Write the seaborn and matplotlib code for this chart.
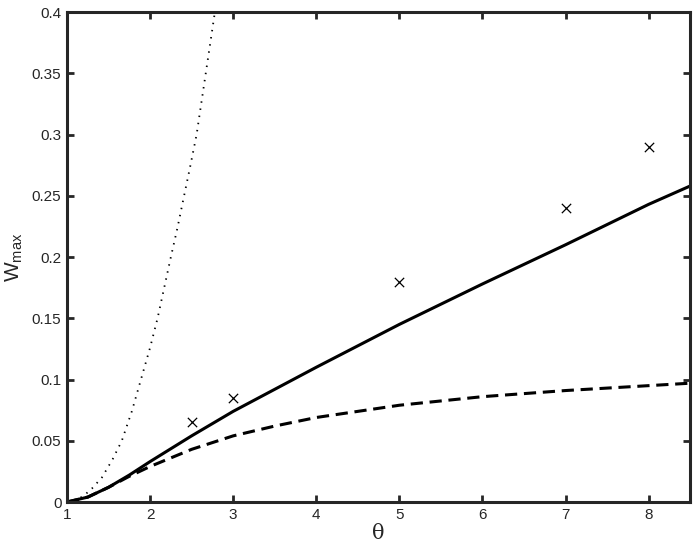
import numpy as np
import pandas as pd
import seaborn as sns
import matplotlib
matplotlib.use("Agg")
import matplotlib.pyplot as plt

# values
theta_solid = [1.0, 1.25, 1.5, 1.75, 2.0, 2.5, 3.0, 3.5, 4.0, 5.0, 6.0, 7.0, 8.0, 8.5]
w_solid = [0.0, 0.004, 0.012, 0.022, 0.033, 0.054, 0.074, 0.092, 0.110, 0.145, 0.178, 0.210, 0.243, 0.258]

theta_dash = [1.0, 1.25, 1.5, 1.75, 2.0, 2.5, 3.0, 3.5, 4.0, 5.0, 6.0, 7.0, 8.0, 8.5]
w_dash = [0.0, 0.004, 0.012, 0.021, 0.029, 0.043, 0.054, 0.062, 0.069, 0.079, 0.086, 0.091, 0.095, 0.097]

theta_dot = [1.0, 1.1, 1.2, 1.3, 1.42, 1.55, 1.66, 1.78, 1.89, 2.0, 2.09, 2.17, 2.25, 2.33, 2.40, 2.48, 2.56, 2.67, 2.78]
w_dot = [0.0, 0.0013, 0.005, 0.011, 0.020, 0.035, 0.050, 0.074, 0.100, 0.126, 0.150, 0.175, 0.200, 0.224, 0.247, 0.273, 0.300, 0.350, 0.400]

theta_pts = [2.5, 3, 5, 7, 8]
w_pts = [0.065, 0.085, 0.18, 0.24, 0.29]

yticks = [0, 0.05, 0.1, 0.15, 0.2, 0.25, 0.3, 0.35, 0.4]
ytick_labels = ["0", "0.05", "0.1", "0.15", "0.2", "0.25", "0.3", "0.35", "0.4"]
xticks = [1, 2, 3, 4, 5, 6, 7, 8]

sns.set_style("ticks")
plt.rcParams['font.family'] = ['Liberation Sans', 'DejaVu Sans']

fig = plt.figure(figsize=(6.95, 5.49), dpi=100)
ax = fig.add_axes([0.0964, 0.0856, 0.8966, 0.8924])

sns.lineplot(x=theta_solid, y=w_solid, ax=ax, color='black', lw=2.2)
sns.lineplot(x=theta_dash, y=w_dash, ax=ax, color='black', lw=2.2, linestyle=(0, (4, 2.2)))
sns.lineplot(x=theta_dot, y=w_dot, ax=ax, color='black', lw=1.3, linestyle=(0, (0.8, 3.2)))
sns.scatterplot(x=theta_pts, y=w_pts, ax=ax, marker='x', color='black', s=45, linewidth=0.9)

ax.set_xlim(1, 8.5)
ax.set_ylim(0, 0.4)
ax.set_xticks(xticks)
ax.set_yticks(yticks)
ax.set_yticklabels(ytick_labels)
ax.tick_params(direction='in', top=True, right=True, length=5, width=2, labelsize=11, pad=4)
for sp in ax.spines.values():
    sp.set_linewidth(2.2)
    sp.set_visible(True)

ax.set_xlabel("θ", fontsize=15, family=['DejaVu Serif'], labelpad=2)
ax.set_ylabel(r"W$_{\mathregular{max}}$", fontsize=15)
ax.yaxis.set_label_coords(-0.068, 0.5)

fig.savefig("out.png", dpi=100)
